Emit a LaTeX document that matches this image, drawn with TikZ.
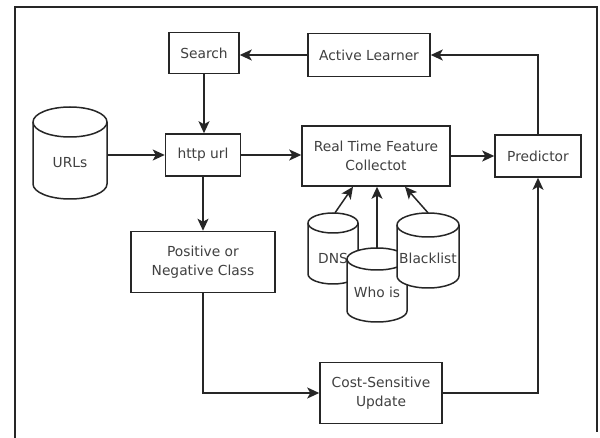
\documentclass[tikz,border=0pt]{standalone}
\usepackage{fontspec}
\setmainfont{DejaVu Sans}
\usetikzlibrary{arrows.meta}
\tikzset{
  lw/.style={line width=1.5pt, draw=black!85},
  box/.style={lw, fill=white, align=center, inner sep=0pt, text=black!75,
    font=\fontsize{13.8}{19}\selectfont},
  arr/.style={lw, -{Stealth[length=12pt,width=11pt,inset=3pt]}},
  dblabel/.style={text=black!75, inner sep=0pt, font=\fontsize{13.8}{19}\selectfont},
}
% database cylinder: name, centre x, top y, bottom y, x radius, y radius, label, label y
\newcommand\dbcyl[8]{%
  \filldraw[lw, fill=white] ({#2-#5},{#3+#6}) -- ({#2-#5},{#4-#6})
    arc[start angle=180,end angle=0,x radius=#5,y radius=#6]
    -- ({#2+#5},{#3+#6})
    arc[start angle=0,end angle=-180,x radius=#5,y radius=#6] -- cycle;
  \draw[lw] ({#2-#5},{#3+#6}) arc[start angle=180,end angle=0,x radius=#5,y radius=#6];
  \node[inner sep=0pt, minimum width={2*#5}, minimum height={#4-#3}] (#1) at (#2,{(#3+#4)/2}) {};
  \node[dblabel] at (#2,#8) {#7};
}
\begin{document}
\begin{tikzpicture}[x=1pt,y=-1pt]
\useasboundingbox (0,0) rectangle (600,438);

% outer frame
\draw[lw] (15,438) -- (15,7) -- (597,7) -- (597,432);

% process boxes
\node[box, minimum width=70, minimum height=41] (search) at (204,53) {Search};
\node[box, minimum width=122, minimum height=43] (learner) at (369,55) {Active Learner};
\node[box, minimum width=75, minimum height=42] (http) at (203,155) {http url};
\node[box, minimum width=148, minimum height=60] (rtfc) at (376,156) {Real Time Feature\\Collectot};
\node[box, minimum width=86, minimum height=42] (pred) at (538,156) {Predictor};
\node[box, minimum width=144, minimum height=61] (pos) at (203,262) {Positive or\\Negative Class};
\node[box, minimum width=122, minimum height=61] (cost) at (381,393) {Cost-Sensitive\\Update};

% data sources
\dbcyl{urls}{70}{107}{199}{37}{15}{URLs}{163}
\dbcyl{dns}{333}{213}{284}{25}{10}{DNS}{258}
\dbcyl{whois}{377}{248}{322}{30}{11}{Who is}{292}
\dbcyl{black}{428}{213}{288}{31}{12}{Blacklist}{258}

% connectors
\draw[arr] (learner.west) -- (learner.west -| search.east);
\draw[arr] (pred.north) |- (learner.east);
\draw[arr] (search.south) -- (search.south |- http.north);
\draw[arr] (urls.east |- http.west) -- (http.west);
\draw[arr] (http.east) -- (http.east -| rtfc.west);
\draw[arr] (rtfc.east) -- (pred.west);
\draw[arr] (http.south) -- (pos.north);
\draw[arr] (pos.south) |- (cost.west);
\draw[arr] (cost.east) -| (pred.south);
\draw[arr] ([xshift=2pt]dns.north) -- ([xshift=-23pt]rtfc.south);
\draw[arr] (whois.north) -- (whois.north |- rtfc.south);
\draw[arr] (black.north) -- ([xshift=29pt]rtfc.south);
\end{tikzpicture}
\end{document}
